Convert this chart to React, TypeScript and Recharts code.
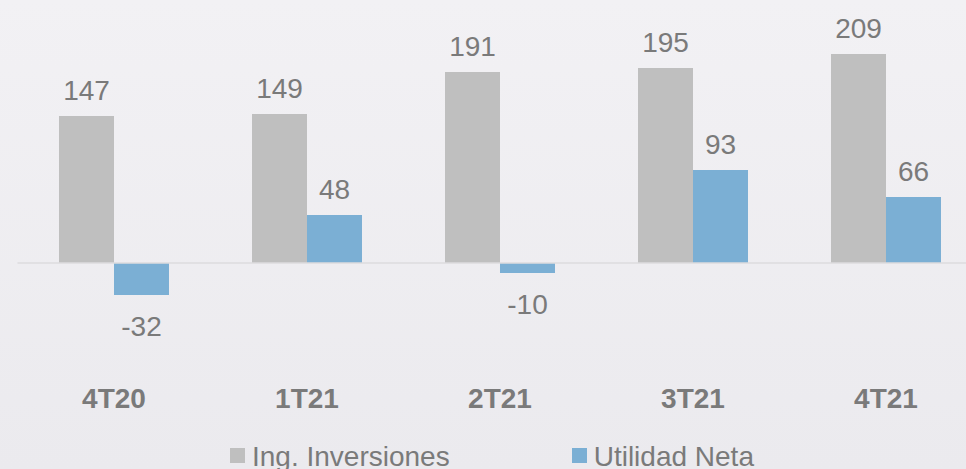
import { Bar, BarChart, LabelList, ReferenceLine, XAxis, YAxis } from "recharts";

const categories = ["4T20", "1T21", "2T21", "3T21", "4T21"];
const ingInversiones = [147, 149, 191, 195, 209];
const utilidadNeta = [-32, 48, -10, 93, 66];
const seriesNames = ["Ing. Inversiones", "Utilidad Neta"];
const seriesColors = ["#bfbfbf", "#7bafd4"];

const FONT = '"Liberation Sans", Arial, sans-serif';
const TEXT = "#7a7a7a";

const data = categories.map((name, i) => ({
  name,
  ing: ingInversiones[i],
  util: utilidadNeta[i],
}));

const renderValue = (props: any) => {
  const vb = props.viewBox ?? props;
  const { x, y, width, height } = vb;
  const v = Number(props.value);
  const top = Math.min(y, y + height);
  const bottom = Math.max(y, y + height);
  const ty = v >= 0 ? top - 16.5 : bottom + 40.5;
  return (
    <text x={x + width / 2} y={ty} textAnchor="middle" fill={TEXT} fontSize={28} fontFamily={FONT}>
      {v}
    </text>
  );
};

export default function App() {
  return (
    <div
      style={{
        position: "fixed",
        left: 0,
        top: 0,
        width: 966,
        height: 469,
        overflow: "hidden",
        background: "linear-gradient(#f2f1f4, #ebeaee)",
        fontFamily: FONT,
      }}
    >
      <BarChart
        width={1000}
        height={469}
        data={data}
        margin={{ top: 13, right: 17.5, bottom: 56, left: 17.5 }}
        barCategoryGap="21.5%"
        barGap={0}
      >
        <XAxis
          dataKey="name"
          axisLine={false}
          tickLine={false}
          tickSize={0}
          tickMargin={25}
          height={50}
          interval={0}
          tick={{ fill: TEXT, fontSize: 28, fontWeight: 700, fontFamily: FONT }}
        />
        <YAxis hide domain={[-100, 250]} />
        <ReferenceLine y={0} stroke="#dcdbde" strokeWidth={1.5} />
        <Bar dataKey="ing" name={seriesNames[0]} fill={seriesColors[0]} isAnimationActive={false}>
          <LabelList dataKey="ing" content={renderValue} />
        </Bar>
        <Bar dataKey="util" name={seriesNames[1]} fill={seriesColors[1]} isAnimationActive={false}>
          <LabelList dataKey="util" content={renderValue} />
        </Bar>
      </BarChart>
      <div
        style={{
          position: "absolute",
          left: 230,
          top: 443.4,
          display: "flex",
          gap: 122,
          fontSize: 28,
          lineHeight: "28px",
          color: TEXT,
          whiteSpace: "nowrap",
        }}
      >
        {seriesNames.map((n, i) => (
          <div key={n} style={{ display: "flex", alignItems: "flex-start" }}>
            <span
              style={{
                display: "inline-block",
                width: 15,
                height: 15,
                marginTop: 5,
                marginRight: 7,
                background: seriesColors[i],
              }}
            />
            <span>{n}</span>
          </div>
        ))}
      </div>
    </div>
  );
}
